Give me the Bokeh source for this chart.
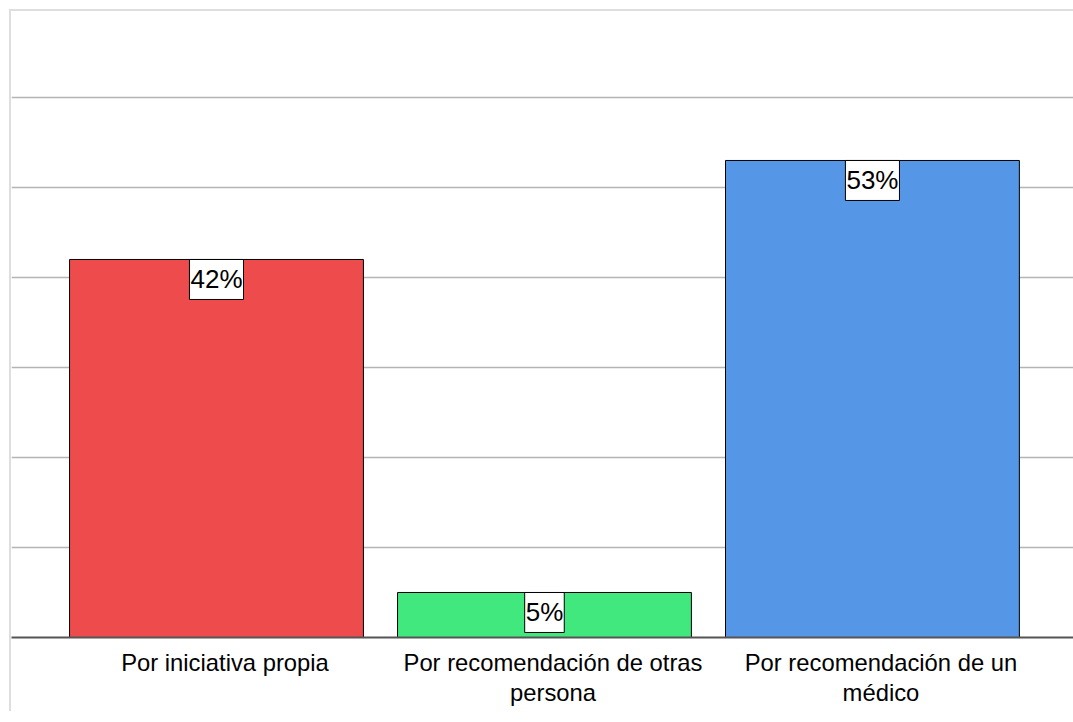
from bokeh.plotting import figure
from bokeh.models import Range1d, FixedTicker, SingleIntervalTicker, ColumnDataSource, LinearAxis
from bokeh.core.properties import value
from bokeh.embed import file_html
from bokeh.resources import INLINE

categories = ["Por iniciativa propia",
              "Por recomendación de otras\npersona",
              "Por recomendación de un\nmédico"]
values = [42, 5, 53]
colors = ["#ee4b4d", "#40e87d", "#5596e6"]
labels = [f"{v}%" for v in values]
positions = list(range(len(categories)))

src = ColumnDataSource(dict(x=positions, top=values, color=colors, label=labels))

x0, x1 = -0.625, 2.613
lab_shift = 0.026
p = figure(frame_width=1062, frame_height=625,
           x_range=Range1d(x0, x1), y_range=Range1d(0, 69.44),
           x_axis_location=None,
           output_backend="svg", toolbar_location=None,
           min_border_left=0, min_border_right=0, min_border_top=1, min_border_bottom=74)
p.styles = {"margin-left": "9px", "margin-top": "9px",
            "border-left": "2px solid #dedede", "border-top": "2px solid #dedede"}
p.outline_line_color = None
p.extra_x_ranges = {"lab": Range1d(x0 - lab_shift, x1 - lab_shift)}

p.vbar(x="x", top="top", width=0.896, bottom=0, source=src,
       fill_color="color", line_color="black", line_width=1)

p.text(x="x", y="top", text="label", source=src,
       text_align="center", text_baseline="top",
       text_font=value("Liberation Sans"), text_font_size="26px",
       text_color="black", background_fill_color="white",
       border_line_color="black", border_line_width=1, padding=(1, 5))

p.yaxis.visible = False
p.yaxis.ticker = SingleIntervalTicker(interval=10)
p.ygrid.ticker = SingleIntervalTicker(interval=10)
p.ygrid.grid_line_color = "#b4b4b4"
p.ygrid.grid_line_width = 1.5
p.xgrid.grid_line_color = None

xa = LinearAxis(x_range_name="lab")
xa.ticker = FixedTicker(ticks=positions)
xa.major_label_overrides = {i: c for i, c in zip(positions, categories)}
xa.axis_line_color = "#555555"
xa.axis_line_width = 2
xa.major_tick_line_color = None
xa.minor_tick_line_color = None
xa.major_label_text_font = "Liberation Sans"
xa.major_label_text_font_size = "23.8px"
xa.major_label_text_color = "black"
xa.major_label_text_line_height = 1.12
xa.major_label_standoff = 5
p.add_layout(xa, "below")

open("out.html", "w").write(file_html(p, INLINE))
